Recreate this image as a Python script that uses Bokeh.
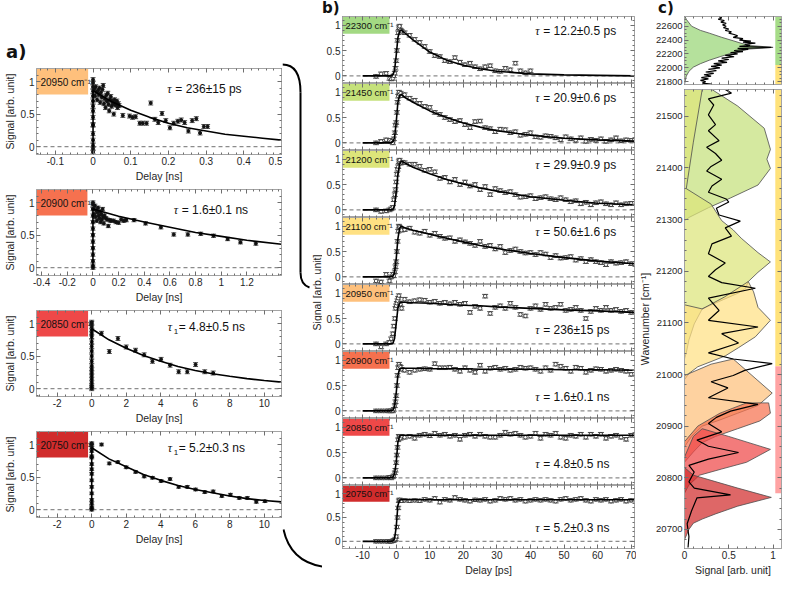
from bokeh.plotting import figure
from bokeh.models import (Range1d, FixedTicker, LinearAxis, Span, Whisker, TeeHead, Div,
                          ColumnDataSource, BoxAnnotation, NumeralTickFormatter)
from bokeh.layouts import row, column
from bokeh.core.properties import value
from bokeh.embed import file_html
from bokeh.resources import INLINE
import math

# ======================= DATA =======================
# ---- panel a (delay in ns) ----
a_labels = ["20950", "20900", "20850", "20750"]
a_colors = ["#FEC07C", "#F6714F", "#EE4848", "#D12C2C"]
a_taus = ["236±15 ps", "1.6±0.1 ns", "4.8±0.5 ns", "5.2±0.3 ns"]
a_tau_sub = ["", "", "1", "1"]
a_err = [0.03, 0.025, 0.03, 0.02]

a1_t = [0, 0, 0, 0, 0, 0, 0, 0, 0, 0, 0, 0, 0, 0, 0, 0,
        0.003, 0.005, 0.007, 0.009, 0.011, 0.013, 0.015, 0.017, 0.019, 0.021, 0.023, 0.025,
        0.027, 0.029, 0.031, 0.033, 0.035, 0.037, 0.039, 0.041, 0.043, 0.045, 0.047, 0.049,
        0.051, 0.053, 0.055, 0.057, 0.059, 0.061, 0.063, 0.065, 0.067, 0.069,
        0.079, 0.097, 0.105, 0.113, 0.124, 0.132, 0.142, 0.153, 0.164, 0.173, 0.183, 0.193,
        0.204, 0.214, 0.225, 0.234, 0.243, 0.253, 0.263, 0.274, 0.284, 0.294, 0.304]
a1_s = [-0.08, -0.03, 0.02, 0.1, 0.2, 0.33, 0.34, 0.45, 0.55, 0.62, 0.7, 0.78, 0.85, 0.92, 0.98, 1.03,
        0.88, 0.78, 0.92, 0.84, 0.72, 0.86, 0.8, 0.9, 0.68, 0.83, 0.76, 0.88,
        0.94, 0.66, 0.74, 0.6, 0.79, 0.7, 0.82, 0.65, 0.55, 0.72, 0.77, 0.62,
        0.7, 0.66, 0.5, 0.72, 0.64, 0.68, 0.7, 0.6, 0.66, 0.63,
        0.48, 0.47, 0.45, 0.46, 0.36, 0.36, 0.36, 0.67, 0.42, 0.37, 0.51, 0.40,
        0.29, 0.36, 0.39, 0.41, 0.37, 0.24, 0.40, 0.43, 0.21, 0.31, 0.31]
a1_fit_t = [0, 0, 0.05, 0.1, 0.15, 0.2, 0.25, 0.3, 0.35, 0.4, 0.45, 0.5]
a1_fit_s = [0, 0.86, 0.69, 0.56, 0.45, 0.36, 0.29, 0.24, 0.19, 0.16, 0.13, 0.10]

a2_t = [0, 0, 0, 0, 0, 0, 0, 0, 0, 0, 0, 0, 0,
        0.005, 0.01, 0.015, 0.02, 0.025, 0.03, 0.035, 0.04, 0.045, 0.05, 0.055, 0.06, 0.065,
        0.07, 0.075, 0.08, 0.085, 0.09, 0.1, 0.11, 0.12, 0.13, 0.14, 0.16, 0.18, 0.2, 0.22,
        0.24, 0.26,
        0.32, 0.41, 0.53, 0.63, 0.74, 0.84, 0.94, 1.05, 1.15, 1.27]
a2_s = [0.0, 0.03, 0.1, 0.2, 0.3, 0.4, 0.5, 0.6, 0.7, 0.8, 0.9, 0.97, 1.0,
        0.9, 0.82, 0.95, 0.78, 0.88, 0.72, 0.85, 0.92, 0.8, 0.76, 0.86, 0.7, 0.82,
        0.74, 0.9, 0.78, 0.68, 0.8, 0.76, 0.74, 0.64, 0.73, 0.72, 0.72, 0.7, 0.69, 0.74,
        0.72, 0.73,
        0.73, 0.68, 0.62, 0.51, 0.51, 0.52, 0.49, 0.44, 0.39, 0.37]
a2_fit_t = [0, 0, 0.2, 0.4, 0.6, 0.8, 1.0, 1.2, 1.47]
a2_fit_s = [0, 0.9, 0.79, 0.70, 0.62, 0.54, 0.48, 0.42, 0.36]

a3_t = [0, 0, 0, 0, 0, 0, 0, 0, 0, 0, 0, 0, 0, 0, 0, 0, 0, 0, 0, 0,
        0.57, 1.02, 1.52, 2.0, 2.54, 3.04, 3.52, 4.02, 4.54, 5.04, 5.54, 6.02, 6.55, 7.04]
a3_s = [0.0, 0.02, 0.05, 0.1, 0.15, 0.2, 0.25, 0.3, 0.35, 0.42, 0.5, 0.58, 0.65, 0.72, 0.8,
        0.85, 0.9, 0.95, 1.0, 1.02,
        0.85, 0.57, 0.77, 0.64, 0.59, 0.52, 0.42, 0.45, 0.36, 0.26, 0.26, 0.37, 0.26, 0.24]
a3_fit_t = [0, 0, 1, 2, 3, 4, 5, 6, 7, 8, 9, 10, 11]
a3_fit_s = [0, 0.92, 0.75, 0.62, 0.51, 0.42, 0.34, 0.28, 0.23, 0.19, 0.155, 0.125, 0.1]

a4_t = [0, 0, 0, 0, 0, 0, 0, 0, 0, 0, 0, 0, 0, 0, 0, 0, 0,
        0.57, 1.02, 1.52, 2.0, 2.54, 3.04, 3.52, 4.02, 4.54, 5.04, 5.54, 6.02, 6.55, 7.04,
        7.54, 8.04, 8.55, 9.02, 9.54, 10.04]
a4_s = [0.0, 0.02, 0.04, 0.1, 0.15, 0.25, 0.35, 0.45, 0.55, 0.62, 0.7, 0.8, 0.82, 0.9, 0.95, 1.0, 1.02,
        1.0, 0.71, 0.73, 0.65, 0.58, 0.51, 0.49, 0.44, 0.47, 0.35, 0.35, 0.31, 0.27, 0.28,
        0.21, 0.23, 0.18, 0.18, 0.12, 0.13]
a4_fit_t = [0, 0, 1, 2, 3, 4, 5, 6, 7, 8, 9, 10, 11]
a4_fit_s = [0, 0.95, 0.78, 0.66, 0.54, 0.45, 0.37, 0.31, 0.26, 0.21, 0.17, 0.14, 0.12]

# ---- panel b (delay in ps) ----
b_labels = ["22300", "21450", "21200", "21100", "20950", "20900", "20850", "20750"]
b_colors = ["#A3D983", "#C5E17B", "#DDE57A", "#FFE183", "#FEC07C", "#F6714F", "#EE4848", "#D12C2C"]
b_taus = ["12.2±0.5 ps", "20.9±0.6 ps", "29.9±0.9 ps", "50.6±1.6 ps",
          "236±15 ps", "1.6±0.1 ns", "4.8±0.5 ns", "5.2±0.3 ns"]
b_err = 0.035

b_rise_t = [-6, -4.5, -3, -2, -1.5, -1, -0.7, -0.4, -0.2, 0, 0.2, 0.4, 0.6, 0.8, 1.0, 1.3, 1.6]
b_decay_t = [2.5, 4, 5.5, 7, 8.5, 10, 11.5, 13, 14.5, 16, 17.5, 19, 20.5, 22, 23.5, 25, 26.5, 28,
             29.5, 31, 32.5, 34, 35.5, 37, 38.5, 40, 41.5, 43, 44.5, 46, 47.5, 49, 50.5, 52, 53.5,
             55, 56.5, 58, 59.5, 61, 62.5, 64, 65.5, 67, 68.5, 70]
b_fit_t = [-10, -2, -1, -0.5, 0, 0.5, 1, 1.5, 2.5, 5, 10, 15, 20, 25, 30, 40, 50, 60, 71]

b_rise = [
    [-0.01, 0.04, 0.05, -0.05, -0.06, -0.05, 0.0, 0.05, 0.15, 0.3, 0.5, 0.7, 0.85, 0.95, 0.98, 0.9, 0.88],
    [0.0, 0.03, 0.06, 0.05, 0.03, 0.0, 0.08, 0.2, 0.35, 0.4, 0.6, 0.8, 0.92, 1.0, 0.95, 0.98, 0.93],
    [0.0, -0.03, -0.02, 0.0, 0.02, 0.05, 0.2, 0.3, 0.4, 0.55, 0.7, 0.8, 0.85, 0.95, 0.98, 0.92, 0.94],
    [-0.08, -0.1, 0.05, -0.08, 0.0, 0.05, 0.02, 0.1, 0.2, 0.3, 0.5, 0.7, 0.9, 1.0, 0.98, 0.95, 0.92],
    [0.0, -0.06, 0.0, 0.03, 0.1, 0.2, 0.35, 0.5, 0.7, 0.75, 0.8, 0.85, 0.9, 0.95, 0.8, 0.78, 0.7],
    [0.0, 0.0, 0.0, 0.0, 0.0, 0.0, 0.03, 0.1, 0.18, 0.3, 0.5, 0.7, 0.85, 0.92, 0.88, 0.86, 0.82],
    [0.0, 0.0, 0.0, 0.01, 0.0, 0.02, 0.04, 0.1, 0.15, 0.3, 0.45, 0.6, 0.75, 0.82, 0.8, 0.78, 0.82],
    [0.0, 0.0, 0.0, 0.0, 0.0, 0.01, 0.02, 0.03, 0.05, 0.1, 0.3, 0.5, 0.7, 0.85, 0.87, 0.86, 0.85],
]
b_decay = [
    [0.85, 0.8, 0.72, 0.66, 0.58, 0.48, 0.4, 0.38, 0.3, 0.28, 0.36, 0.27, 0.22, 0.25, 0.18, 0.14,
     0.18, 0.2, 0.1, 0.09, 0.15, 0.12, 0.25, 0.1, 0.06, 0.1],
    [0.95, 0.88, 0.84, 0.78, 0.72, 0.7, 0.6, 0.56, 0.5, 0.46, 0.42, 0.44, 0.36, 0.3, 0.42, 0.43,
     0.3, 0.28, 0.22, 0.27, 0.26, 0.2, 0.22, 0.15, 0.17, 0.2, 0.12, 0.11, 0.14, 0.13, 0.1, 0.06,
     0.12, 0.08, 0.05, 0.1, 0.03, 0.07, 0.05, 0.08, 0.03, 0.06, 0.1, 0.04, 0.06, 0.05],
    [0.93, 0.9, 0.9, 0.86, 0.78, 0.8, 0.75, 0.62, 0.64, 0.55, 0.6, 0.5, 0.55, 0.47, 0.5, 0.4,
     0.46, 0.3, 0.42, 0.38, 0.34, 0.36, 0.3, 0.25, 0.26, 0.28, 0.22, 0.24, 0.26, 0.22, 0.2, 0.24,
     0.2, 0.16, 0.18, 0.12, 0.15, 0.1, 0.14, 0.16, 0.12, 0.1, 0.14, 0.1, 0.12, 0.13],
    [0.93, 0.96, 0.88, 0.86, 0.9, 0.82, 0.86, 0.8, 0.76, 0.77, 0.7, 0.73, 0.69, 0.66, 0.62, 0.7,
     0.6, 0.62, 0.55, 0.6, 0.48, 0.52, 0.55, 0.5, 0.47, 0.48, 0.44, 0.48, 0.45, 0.38, 0.42, 0.37,
     0.38, 0.4, 0.33, 0.36, 0.3, 0.34, 0.3, 0.28, 0.24, 0.3, 0.27, 0.28, 0.3, 0.26],
    [0.88, 0.83, 0.85, 0.87, 0.86, 0.82, 0.84, 0.8, 0.82, 0.79, 0.82, 0.78, 0.8, 0.62, 0.74, 0.7,
     0.94, 0.6, 0.72, 0.75, 0.7, 0.8, 0.72, 0.58, 0.55, 0.7, 0.75, 0.68, 0.78, 0.7, 0.72, 0.78,
     0.66, 0.68, 0.72, 0.66, 0.5, 0.64, 0.7, 0.66, 0.72, 0.66, 0.68, 0.64, 0.66, 0.62],
    [0.8, 0.76, 0.8, 0.82, 0.83, 0.82, 0.93, 0.85, 0.85, 0.86, 0.82, 0.78, 0.85, 0.8, 0.76, 0.9,
     0.78, 0.84, 0.86, 0.82, 0.84, 0.8, 0.82, 0.86, 0.84, 0.85, 0.82, 0.78, 0.85, 0.8, 0.92, 0.88,
     0.84, 0.78, 0.86, 0.84, 0.76, 0.8, 0.83, 0.82, 0.78, 0.8, 0.82, 0.8, 0.78, 0.72],
    [0.8, 0.82, 0.78, 0.84, 0.86, 0.83, 0.88, 0.84, 0.86, 0.82, 0.84, 0.76, 0.84, 0.86, 0.82, 0.86,
     0.82, 0.8, 0.8, 0.84, 0.9, 0.86, 0.88, 0.84, 0.8, 0.82, 0.88, 0.78, 0.86, 0.84, 0.88, 0.8,
     0.78, 0.84, 0.82, 0.86, 0.8, 0.86, 0.82, 0.86, 0.78, 0.82, 0.84, 0.8, 0.76, 0.84],
    [0.86, 0.85, 0.86, 0.85, 0.88, 0.86, 0.9, 0.82, 0.88, 0.86, 0.92, 0.88, 0.86, 0.84, 0.87, 0.86,
     0.88, 0.84, 0.86, 0.9, 0.88, 0.9, 0.86, 0.88, 0.84, 0.86, 0.88, 0.86, 0.88, 0.86, 0.84, 0.88,
     0.9, 0.86, 0.88, 0.9, 0.86, 0.84, 0.88, 0.86, 0.88, 0.84, 0.86, 0.88, 0.84, 0.86],
]
b_fit = [
    [0, 0, 0.02, 0.1, 0.4, 0.75, 0.88, 0.9, 0.85, 0.71, 0.47, 0.31, 0.21, 0.14, 0.09, 0.04, 0.02, 0.01, 0.0],
    [0, 0, 0.02, 0.1, 0.4, 0.8, 0.93, 0.95, 0.9, 0.8, 0.63, 0.5, 0.39, 0.31, 0.24, 0.15, 0.09, 0.06, 0.035],
    [0, 0, 0.01, 0.08, 0.35, 0.7, 0.9, 0.96, 0.93, 0.84, 0.71, 0.6, 0.51, 0.43, 0.37, 0.26, 0.19, 0.13, 0.1],
    [0, 0, 0.01, 0.08, 0.35, 0.75, 0.95, 1.0, 0.97, 0.92, 0.84, 0.76, 0.69, 0.62, 0.56, 0.46, 0.38, 0.31, 0.26],
    [0, 0, 0.01, 0.1, 0.4, 0.7, 0.8, 0.82, 0.82, 0.81, 0.8, 0.78, 0.76, 0.75, 0.73, 0.7, 0.67, 0.65, 0.62],
    [0, 0, 0.01, 0.08, 0.35, 0.7, 0.82, 0.84, 0.84, 0.84, 0.83, 0.83, 0.83, 0.82, 0.82, 0.82, 0.81, 0.81, 0.8],
    [0, 0, 0.01, 0.08, 0.3, 0.7, 0.82, 0.84, 0.84, 0.84, 0.84, 0.84, 0.84, 0.84, 0.84, 0.84, 0.84, 0.84, 0.84],
    [0, 0, 0.01, 0.05, 0.3, 0.75, 0.86, 0.87, 0.87, 0.87, 0.87, 0.87, 0.87, 0.87, 0.87, 0.87, 0.87, 0.87, 0.87],
]

# ---- panel c (spectra: signal vs wavenumber) ----
c_top_spec_sig = [0.0, 0.02, 0.08, 0.18, 0.28, 0.42, 0.55, 0.65, 0.76, 1.0, 0.72, 0.55, 0.4, 0.28,
                  0.18, 0.1, 0.05, 0.02, 0.0]
c_top_spec_wn = [22760, 22700, 22600, 22540, 22500, 22440, 22390, 22350, 22320, 22295, 22270,
                 22220, 22160, 22110, 22060, 22010, 21950, 21880, 21760]
c_top_abs_wn = [22740, 22720, 22700, 22680, 22660, 22640, 22620, 22600, 22580, 22560, 22540, 22520,
                22500, 22480, 22460, 22440, 22420, 22400, 22385, 22370, 22355, 22340, 22325, 22310,
                22295, 22280, 22265, 22250, 22235, 22220, 22200, 22180, 22160, 22140, 22120, 22100,
                22080, 22060, 22040, 22020, 22000, 21980, 21960, 21940, 21920, 21900, 21880, 21860,
                21840, 21820, 21800, 21780, 21765]
c_top_abs_sig = [0.39, 0.42, 0.38, 0.45, 0.41, 0.47, 0.43, 0.47, 0.44, 0.5, 0.46, 0.53, 0.5, 0.56,
                 0.6, 0.55, 0.66, 0.62, 0.75, 0.66, 0.8, 0.68, 0.74, 0.62, 0.98, 0.6, 0.72, 0.56,
                 0.66, 0.52, 0.6, 0.46, 0.56, 0.42, 0.5, 0.38, 0.48, 0.33, 0.42, 0.3, 0.4, 0.27,
                 0.36, 0.24, 0.33, 0.22, 0.3, 0.19, 0.27, 0.18, 0.24, 0.2, 0.3]

c_spec_names = ["21450", "21200", "21100", "20950", "20900", "20850", "20750"]
c_spec_colors = ["#C5E17B", "#DDE57A", "#FFE183", "#FEC07C", "#F6714F", "#EE4848", "#D12C2C"]
c_spec_sig = [
    [0.0, 0.31, 0.31, 0.6, 0.9, 0.97, 0.93, 0.97, 0.83, 0.52, 0.27, 0.06, 0.0],
    [0.0, 0.2, 0.2, 0.1, 0.02, 0.3, 0.42, 0.55, 0.64, 0.83, 0.97, 0.83, 0.72, 0.69, 0.61, 0.2, 0.11,
     0.05, 0.02, 0.0],
    [0.0, 0.2, 0.45, 0.72, 0.78, 0.83, 0.97, 0.8, 0.61, 0.46, 0.3, 0.15, 0.05, 0.0],
    [0.0, 0.3, 0.55, 0.99, 0.83, 0.6, 0.4, 0.2, 0.08, 0.0],
    [0.0, 0.15, 0.4, 0.7, 0.95, 0.97, 0.85, 0.6, 0.35, 0.2, 0.1, 0.0],
    [0.0, 0.1, 0.2, 0.5, 0.97, 0.7, 0.42, 0.17, 0.05, 0.0],
    [0.0, 0.1, 0.3, 0.6, 0.98, 0.6, 0.35, 0.2, 0.1, 0.05, 0.0],
]
c_spec_wn = [
    [21600, 21600, 21552, 21520, 21477, 21436, 21417, 21399, 21367, 21342, 21323, 21305, 21298],
    [21600, 21600, 21552, 21450, 21360, 21330, 21298, 21280, 21264, 21236, 21218, 21198, 21180,
     21167, 21158, 21127, 21098, 21067, 21042, 21030],
    [21135, 21127, 21150, 21180, 21160, 21130, 21105, 21073, 21052, 21036, 21025, 21015, 21002, 20990],
    [20998, 21020, 21030, 20964, 20940, 20925, 20912, 20900, 20880, 20860],
    [20870, 20900, 20925, 20945, 20945, 20925, 20910, 20895, 20880, 20868, 20850, 20830],
    [20840, 20880, 20895, 20880, 20855, 20830, 20817, 20805, 20786, 20770],
    [20820, 20805, 20795, 20780, 20762, 20745, 20730, 20720, 20712, 20700, 20680],
]
c_abs_wn = [21552, 21545, 21534, 21522, 21503, 21484, 21472, 21453, 21440, 21428, 21415, 21403,
            21394, 21378, 21365, 21353, 21340, 21334, 21322, 21309, 21297, 21284, 21268, 21253,
            21234, 21216, 21203, 21190, 21178, 21167, 21148, 21124, 21105, 21092, 21079, 21061,
            21042, 21030, 21021, 21008, 20998, 20986, 20974, 20955, 20942, 20929, 20917, 20905,
            20889, 20873, 20861, 20849, 20836, 20824, 20811, 20792, 20780, 20767, 20761, 20736,
            20711, 20686, 20665]
c_abs_sig = [0.46, 0.53, 0.27, 0.33, 0.27, 0.35, 0.27, 0.39, 0.25, 0.35, 0.42, 0.30, 0.25, 0.42,
             0.31, 0.27, 0.47, 0.50, 0.36, 0.39, 0.63, 0.46, 0.53, 0.31, 0.27, 0.46, 0.35, 0.27,
             0.42, 0.80, 0.27, 0.39, 0.27, 0.83, 0.42, 0.61, 0.27, 0.55, 0.99, 0.68, 0.55, 0.30,
             0.49, 0.27, 0.83, 0.52, 0.36, 0.27, 0.42, 0.14, 0.27, 0.61, 0.27, 0.05, 0.11, 0.05,
             0.11, 0.52, 0.14, 0.08, 0.03, 0.05, 0.04]
c_top_strip_lo = [22040, 21700]
c_top_strip_hi = [22800, 22040]
c_top_strip_col = ["#A6DC88", "#FFE27A"]
c_bot_strip_lo = [21016, 20770]
c_bot_strip_hi = [21600, 21016]
c_bot_strip_col = ["#FFE27A", "#FFA3A3"]

# ======================= STYLE / HELPERS =======================
FONT = "Liberation Sans"
AXC = "#a3a3a3"
TICKC = "#6e6e6e"
TXT = "#262626"


def frange(a, b, step):
    n = int(round((b - a) / step))
    return [round(a + i * step, 6) for i in range(n + 1)]


Y_TICKS = [0, 0.5, 1]
Y_MINOR = frange(-0.1, 1.1, 0.1)


def base_fig(w, h, xr, yr, bl, br, bt, bb, outline=AXC):
    p = figure(width=w, height=h, x_range=Range1d(*xr), y_range=Range1d(*yr),
               output_backend="svg", toolbar_location=None, tools="",
               x_axis_location=None, y_axis_location=None,
               min_border_left=bl, min_border_right=br, min_border_top=bt, min_border_bottom=bb,
               background_fill_color="white", border_fill_color="white",
               outline_line_color=outline, outline_line_width=1)
    p.grid.visible = False
    return p


def add_axis(p, side, ticks, minor, labels=False, title=None, fs="10px"):
    ax = LinearAxis(ticker=FixedTicker(ticks=ticks, minor_ticks=minor),
                    formatter=NumeralTickFormatter(format="0.[00]"),
                    axis_line_color=AXC, axis_line_width=1,
                    major_tick_line_color=TICKC, minor_tick_line_color=TICKC,
                    major_tick_in=4, major_tick_out=0, minor_tick_in=2, minor_tick_out=0,
                    major_label_text_font=FONT,
                    major_label_text_font_size=fs if labels else "0px",
                    major_label_text_alpha=1 if labels else 0,
                    major_label_text_color=TXT, major_label_standoff=2 if labels else 0,
                    axis_label_text_font=FONT, axis_label_text_font_size="10.5px",
                    axis_label_text_font_style="normal", axis_label_text_color=TXT,
                    axis_label_standoff=2)
    if title:
        ax.axis_label = title
    p.add_layout(ax, side)


def errbars(p, t, s, err, head):
    n = min(len(t), len(s))
    src = ColumnDataSource(dict(x=t[:n], y=s[:n], lo=[v - err for v in s[:n]],
                                hi=[v + err for v in s[:n]]))
    p.add_layout(Whisker(source=src, base="x", upper="hi", lower="lo",
                         line_color="#3a3a3a", line_width=1,
                         upper_head=TeeHead(size=head, line_color="#505050", line_width=1),
                         lower_head=TeeHead(size=head, line_color="#505050", line_width=1)))
    return src


def tau_text(p, x, y, sub, rest, fs="12px"):
    p.text(x=[x], y=[y], text=["τ"], text_font=value("Liberation Serif"),
           text_font_style="italic", text_font_size=fs, text_baseline="middle", text_color="#111111")
    off = 8
    if sub:
        p.text(x=[x], y=[y], text=[sub], x_offset=6, y_offset=4, text_font=value(FONT),
               text_font_size="8px", text_baseline="middle", text_color="#111111")
        off = 11
    p.text(x=[x], y=[y], text=[" = " + rest], x_offset=off, text_font=value(FONT),
           text_font_size=fs, text_baseline="middle", text_color="#111111")


def zero_line(p):
    p.add_layout(Span(location=0, dimension="width", line_color="#8c8c8c", line_dash="4 3",
                      line_width=1.2, level="underlay"))


def label_div(w, h, txt, left, top, size):
    html = ('<div style="position:relative; left:%dpx; top:%dpx; font-family:\'DejaVu Sans\';'
            ' font-weight:bold; font-size:%s; line-height:1.1; color:#111; white-space:nowrap;">%s</div>'
            % (left, top, size, txt))
    return Div(text=html, width=w, height=h, margin=0)


# ======================= PANEL A =======================
A_W, A_H, A_BL = 282, 121, 28
a_data = [
    (a1_t, a1_s, a1_fit_t, a1_fit_s, (-0.15, 0.5), [-0.1, 0, 0.1, 0.2, 0.3, 0.4, 0.5],
     frange(-0.14, 0.5, 0.02), -0.013, (0.197, 0.89)),
    (a2_t, a2_s, a2_fit_t, a2_fit_s, (-0.44, 1.47), [-0.4, -0.2, 0, 0.2, 0.4, 0.6, 0.8, 1, 1.2],
     frange(-0.4, 1.45, 0.05), -0.043, (0.63, 0.89)),
    (a3_t, a3_s, a3_fit_t, a3_fit_s, (-3.2, 11), [-2, 0, 2, 4, 6, 8, 10],
     frange(-3, 11, 0.5), -0.21, (4.4, 0.94)),
    (a4_t, a4_s, a4_fit_t, a4_fit_s, (-3.2, 11), [-2, 0, 2, 4, 6, 8, 10],
     frange(-3, 11, 0.5), -0.21, (4.4, 0.94)),
]
a_figs = [label_div(A_W, 63, "a)", 6, 42, "18px")]
for i, (t, s, ft, fsig, xr, xt, xm, box_r, tpos) in enumerate(a_data):
    p = base_fig(A_W, A_H, xr, (-0.12, 1.2), A_BL, 1, 5, 30)
    add_axis(p, "below", xt, xm, labels=True, title="Delay [ns]")
    add_axis(p, "above", xt, xm)
    add_axis(p, "left", Y_TICKS, Y_MINOR, labels=True, title="Signal [arb. unit]")
    add_axis(p, "right", Y_TICKS, Y_MINOR)
    p.add_layout(BoxAnnotation(right=box_r, bottom=0.8, fill_color=a_colors[i], fill_alpha=1,
                               line_color=None, level="underlay"))
    zero_line(p)
    errbars(p, t, s, a_err[i], 5)
    n = min(len(t), len(s))
    p.scatter(t[:n], s[:n], size=3, color="#111111")
    p.line(ft, fsig, line_color="black", line_width=1.6)
    p.text(x=[xr[0]], y=[0.99], text=[a_labels[i] + " cm⁻¹"], x_offset=4, text_font=value(FONT),
           text_font_size="10px", text_baseline="middle", text_color="#111111")
    tau_text(p, tpos[0], tpos[1], a_tau_sub[i], a_taus[i])
    a_figs.append(p)
colA = column(*a_figs)

# ======================= CONNECTOR =======================
CON_W, CON_H = 40, 577
con = figure(width=CON_W, height=CON_H, x_range=Range1d(0, CON_W), y_range=Range1d(0, CON_H),
             output_backend="svg", toolbar_location=None, tools="",
             x_axis_location=None, y_axis_location=None, min_border=0,
             outline_line_color=None, background_fill_color="white", border_fill_color="white")
con.grid.visible = False
H = CON_H
con.bezier(x0=[0], y0=[H - 64], x1=[18], y1=[H - 92], cx0=[14], cy0=[H - 64], cx1=[18], cy1=[H - 76],
           line_color="black", line_width=2)
con.line([18, 18], [H - 92, H - 272], line_color="black", line_width=2)
con.bezier(x0=[18], y0=[H - 272], x1=[27], y1=[H - 287], cx0=[18], cy0=[H - 280], cx1=[21], cy1=[H - 285],
           line_color="black", line_width=2)
con.bezier(x0=[1], y0=[H - 529], x1=[53], y1=[H - 567], cx0=[6], cy0=[H - 552], cx1=[22], cy1=[H - 567],
           line_color="black", line_width=2)
con.text(x=[34], y=[H - 292], text=["Signal [arb. unit]"], angle=math.pi / 2, text_align="center",
         text_baseline="middle", text_font=value(FONT), text_font_size="10.5px", text_color=TXT)

# ======================= PANEL B =======================
B_W, B_BL, B_BR, B_FH, B_BB = 314, 20, 2, 67, 26
B_XT = [-10, 0, 10, 20, 30, 40, 50, 60, 70]
B_XM = frange(-16, 70, 2)
b_figs = [label_div(B_W, 16, "b)", 0, 0, "15px")]
for i in range(8):
    last = (i == 7)
    p = base_fig(B_W, B_FH + (B_BB if last else 0), (-16, 71), (-0.15, 1.17),
                 B_BL, B_BR, 0, B_BB if last else 0)
    add_axis(p, "below", B_XT, B_XM, labels=last, title="Delay [ps]" if last else None)
    add_axis(p, "above", B_XT, B_XM)
    add_axis(p, "left", Y_TICKS, Y_MINOR, labels=True)
    add_axis(p, "right", Y_TICKS, Y_MINOR)
    p.add_layout(BoxAnnotation(right=-2, bottom=0.83, fill_color=b_colors[i], fill_alpha=1,
                               line_color=None, level="underlay"))
    zero_line(p)
    t = b_rise_t + b_decay_t[:len(b_decay[i])]
    s = b_rise[i] + b_decay[i]
    errbars(p, t, s, b_err, 6)
    p.scatter(t, s, size=3.5, fill_color="white", line_color="#222222", line_width=0.8)
    p.line(b_fit_t, b_fit[i], line_color="black", line_width=1.6)
    p.text(x=[-16], y=[1.0], text=[b_labels[i] + " cm⁻¹"], x_offset=3, text_font=value(FONT),
           text_font_size="9.5px", text_baseline="middle", text_color="#111111")
    tau_text(p, 41.4, 0.88 if i < 4 else 0.28, "", b_taus[i])
    b_figs.append(p)
colB = column(*b_figs)

# ======================= PANEL C =======================
C_W, C_BL = 146, 40
C_XR = (0, 1.095)
C_XT = [0, 0.5, 1]
C_XM = frange(0, 1.1, 0.1)

ct = base_fig(C_W, 73, C_XR, (21760, 22740), C_BL, 1, 0, 5)
add_axis(ct, "left", frange(21800, 22600, 200), frange(21750, 22750, 50), labels=True, fs="9.5px")
add_axis(ct, "right", frange(21800, 22600, 200), frange(21750, 22750, 50))
add_axis(ct, "above", C_XT, C_XM)
add_axis(ct, "below", C_XT, C_XM)
ct.quad(left=1.025, right=1.2, bottom=c_top_strip_lo, top=c_top_strip_hi, fill_color=c_top_strip_col,
        line_color=None)
ct.patch(c_top_spec_sig, c_top_spec_wn, fill_color="#A3D983", fill_alpha=0.8, line_color="#4d4d4d",
         line_width=0.8)
ct.line(c_top_abs_sig, c_top_abs_wn, line_color="black", line_width=1.2)

cb = base_fig(C_W, 489, C_XR, (20663, 21552), C_BL, 1, 0, 26)
add_axis(cb, "left", frange(20700, 21500, 100), frange(20660, 21560, 20), labels=True,
         title="Wavenumber [cm⁻¹]", fs="9.5px")
add_axis(cb, "right", frange(20700, 21500, 100), frange(20660, 21560, 20))
add_axis(cb, "above", C_XT, C_XM)
add_axis(cb, "below", C_XT, C_XM, labels=True, title="Signal [arb. unit]", fs="10px")
cb.quad(left=1.025, right=1.2, bottom=c_bot_strip_lo, top=c_bot_strip_hi, fill_color=c_bot_strip_col,
        line_color=None)
for sig, wn, col in zip(c_spec_sig, c_spec_wn, c_spec_colors):
    cb.patch(sig, wn, fill_color=col, fill_alpha=0.72, line_color="#4d4d4d", line_width=0.8)
cb.line(c_abs_sig, c_abs_wn, line_color="black", line_width=1.2)

colC = column(label_div(C_W, 16, "c)", 22, 0, "15px"), ct, cb)

root = row(colA, con, colB, colC)
open("out.html", "w").write(file_html(root, INLINE, title="Transient signals"))
